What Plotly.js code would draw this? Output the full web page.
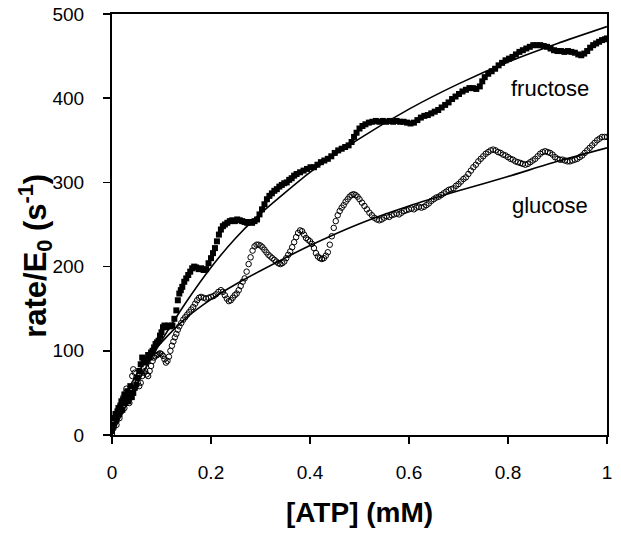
<!DOCTYPE html>
<html>
<head>
<meta charset="utf-8">
<script src="https://cdn.plot.ly/plotly-3.0.1.min.js"></script>
<style>html,body{margin:0;padding:0;background:#fff;}#chart{width:621px;height:533px;}</style>
</head>
<body>
<div id="chart"></div>
<script>
// ---- data ----
const fructoseX = [0.000,0.003,0.005,0.007,0.009,0.011,0.013,0.015,0.017,0.019,0.021,0.023,0.025,0.027,0.029,0.031,0.033,0.035,0.037,0.040,0.043,0.046,0.049,0.052,0.055,0.058,0.061,0.064,0.067,0.070,0.073,0.076,0.079,0.082,0.085,0.088,0.091,0.094,0.097,0.100,0.103,0.106,0.110,0.114,0.118,0.122,0.126,0.130,0.133,0.136,0.139,0.142,0.146,0.150,0.154,0.158,0.162,0.166,0.170,0.175,0.180,0.185,0.190,0.195,0.200,0.204,0.208,0.212,0.216,0.220,0.224,0.228,0.233,0.238,0.243,0.248,0.253,0.258,0.263,0.268,0.273,0.278,0.283,0.288,0.293,0.298,0.303,0.308,0.313,0.318,0.323,0.328,0.333,0.338,0.343,0.348,0.353,0.358,0.363,0.368,0.373,0.380,0.387,0.394,0.401,0.408,0.415,0.422,0.429,0.436,0.443,0.450,0.457,0.464,0.471,0.478,0.484,0.489,0.494,0.500,0.506,0.512,0.519,0.526,0.533,0.540,0.547,0.554,0.561,0.568,0.575,0.582,0.589,0.596,0.603,0.610,0.617,0.624,0.631,0.638,0.645,0.652,0.659,0.666,0.673,0.680,0.687,0.694,0.701,0.708,0.715,0.722,0.729,0.736,0.743,0.748,0.753,0.760,0.767,0.774,0.781,0.788,0.795,0.802,0.809,0.816,0.823,0.830,0.837,0.844,0.851,0.858,0.865,0.872,0.879,0.886,0.893,0.900,0.907,0.914,0.921,0.928,0.935,0.942,0.948,0.954,0.960,0.966,0.972,0.978,0.984,0.990,0.996,1.000];
const fructoseY = [5,12,20,25,18,28,32,25,35,40,30,42,48,38,45,52,40,50,58,45,50,56,60,68,76,84,92,90,86,88,95,92,98,100,104,108,110,112,118,122,128,130,128,130,129,130,138,148,160,168,172,176,182,186,190,194,198,200,199,197,198,196,197,204,210,216,222,230,238,244,248,250,252,254,255,254,256,255,254,253,252,253,252,254,256,262,268,274,280,284,287,290,292,295,297,299,300,303,305,308,310,312,314,316,318,318,321,324,326,328,331,335,338,340,342,344,348,354,359,364,367,369,371,372,373,372,373,372,373,372,373,372,372,371,370,371,374,377,379,380,382,384,386,389,392,395,399,402,405,408,410,412,412,411,414,420,425,429,432,435,439,442,445,447,449,452,455,457,459,461,463,463,463,462,461,459,457,456,456,455,456,455,454,452,451,453,456,460,463,465,467,469,470,471];

const glucoseX = [0.000,0.003,0.005,0.007,0.009,0.011,0.013,0.015,0.017,0.019,0.021,0.023,0.025,0.027,0.029,0.031,0.033,0.035,0.037,0.039,0.041,0.043,0.046,0.049,0.052,0.055,0.058,0.061,0.064,0.067,0.070,0.073,0.076,0.079,0.082,0.085,0.088,0.091,0.094,0.097,0.100,0.103,0.106,0.109,0.112,0.115,0.118,0.121,0.124,0.127,0.130,0.133,0.136,0.140,0.144,0.148,0.152,0.156,0.160,0.164,0.168,0.172,0.176,0.180,0.185,0.190,0.195,0.200,0.205,0.210,0.215,0.220,0.224,0.228,0.232,0.236,0.240,0.244,0.248,0.252,0.256,0.260,0.264,0.268,0.272,0.276,0.280,0.284,0.288,0.292,0.296,0.300,0.304,0.308,0.312,0.316,0.320,0.324,0.328,0.332,0.336,0.340,0.344,0.348,0.352,0.356,0.360,0.364,0.368,0.372,0.376,0.380,0.384,0.388,0.392,0.396,0.400,0.404,0.408,0.412,0.416,0.420,0.424,0.428,0.432,0.436,0.440,0.444,0.448,0.452,0.456,0.460,0.464,0.468,0.472,0.476,0.480,0.484,0.488,0.492,0.496,0.500,0.505,0.510,0.515,0.520,0.525,0.530,0.535,0.540,0.545,0.550,0.555,0.560,0.565,0.570,0.575,0.580,0.585,0.590,0.595,0.600,0.605,0.610,0.615,0.620,0.625,0.630,0.635,0.640,0.645,0.650,0.655,0.660,0.665,0.670,0.675,0.680,0.685,0.690,0.695,0.700,0.705,0.710,0.715,0.720,0.725,0.730,0.735,0.740,0.745,0.750,0.755,0.760,0.765,0.770,0.775,0.780,0.785,0.790,0.795,0.800,0.805,0.810,0.815,0.820,0.825,0.830,0.835,0.840,0.845,0.850,0.855,0.860,0.865,0.870,0.875,0.880,0.885,0.890,0.895,0.900,0.905,0.910,0.915,0.920,0.925,0.930,0.935,0.940,0.945,0.950,0.955,0.960,0.965,0.970,0.975,0.980,0.985,0.990,0.995,1.000];
const glucoseY = [0,8,15,22,12,25,30,20,35,28,40,45,32,50,55,42,48,38,44,55,70,78,74,68,62,58,62,70,74,76,72,70,76,82,88,92,94,95,96,97,96,94,90,86,88,93,100,106,111,116,120,125,129,133,137,140,143,146,149,152,156,160,163,164,163,162,163,164,165,167,170,172,170,166,162,159,160,163,166,168,172,177,182,186,194,203,211,219,224,226,226,225,223,220,217,214,212,210,208,206,204,203,204,206,210,214,218,223,229,235,240,243,242,238,234,232,230,227,222,216,212,210,209,210,213,217,226,236,246,254,261,266,270,273,277,280,283,285,286,285,283,280,276,272,268,264,261,258,256,255,256,258,260,259,261,262,263,262,264,266,267,268,269,268,270,271,270,271,273,275,278,280,282,283,285,287,289,291,292,293,296,298,301,304,306,310,314,318,321,325,328,331,334,336,338,339,338,336,335,333,332,330,328,327,325,324,323,322,321,322,324,326,328,331,334,336,337,336,335,333,330,328,327,327,326,325,325,326,327,328,330,332,335,338,341,344,347,350,352,354,354,354];

const fitX = [0,0.005,0.01,0.02,0.03,0.05,0.075,0.1,0.15,0.2,0.25,0.3,0.4,0.5,0.6,0.7,0.8,0.9,1.0];
const fructoseFitY = [0,6,13,25,37,60,87,112,158,199,234,263,312,352,387,417,443,465,485];
const glucoseFitY = [0,12,22,38,51,72,93,110,139,161,179,195,225,251,272,290,307,325,341];

const xTickVals = [0,0.2,0.4,0.6,0.8,1];
const xTickText = ['0','0.2','0.4','0.6','0.8','1'];
const yTickVals = [0,100,200,300,400,500];
const yTickText = ['0','100','200','300','400','500'];

const seriesLabels = ['fructose','glucose'];
const xTitle = '[ATP] (mM)';
const yTitle = 'rate/E<sub>0</sub> (s<sup>-1</sup>)';

// ---- chart ----
const FONT = 'Arial, "Liberation Sans", Helvetica, sans-serif';
const traces = [
  {x: fructoseX, y: fructoseY, type:'scatter', mode:'markers', name:'fructose',
   marker:{symbol:'square', size:6, color:'#000', line:{width:0}}},
  {x: glucoseX, y: glucoseY, type:'scatter', mode:'markers', name:'glucose',
   marker:{symbol:'circle-open', size:5.5, color:'#000', line:{width:1, color:'#000'}}},
  {x: fitX, y: fructoseFitY, type:'scatter', mode:'lines', name:'fructose fit',
   line:{color:'#000', width:1.6, shape:'spline', smoothing:0.6}},
  {x: fitX, y: glucoseFitY, type:'scatter', mode:'lines', name:'glucose fit',
   line:{color:'#000', width:1.6, shape:'spline', smoothing:0.6}}
];

const layout = {
  width:621, height:533,
  margin:{l:112, r:14, t:14, b:98, pad:0},
  paper_bgcolor:'#fff', plot_bgcolor:'#fff',
  showlegend:false,
  font:{family:FONT, color:'#000'},
  xaxis:{
    range:[0,1], tickmode:'array', tickvals:xTickVals, ticktext:xTickText,
    showline:true, mirror:true, linecolor:'#000', linewidth:2,
    ticks:'outside', ticklen:7, tickwidth:1.5, tickcolor:'#000',
    showgrid:false, zeroline:false,
    tickfont:{family:FONT, size:19, color:'#000'},
    ticklabelstandoff:12,
    title:{text:xTitle, font:{family:FONT, size:28, color:'#000', weight:'bold'}, standoff:21},
    automargin:false
  },
  yaxis:{
    range:[0,500], tickmode:'array', tickvals:yTickVals, ticktext:yTickText,
    showline:true, mirror:true, linecolor:'#000', linewidth:2,
    ticks:'outside', ticklen:7, tickwidth:1.5, tickcolor:'#000',
    showgrid:false, zeroline:false,
    tickfont:{family:FONT, size:19, color:'#000'},
    ticklabelstandoff:15,
    automargin:false
  },
  annotations:[
    {text:yTitle, xref:'paper', yref:'paper', x:-0.156, y:0.425, xanchor:'center', yanchor:'middle',
     textangle:-90, showarrow:false, font:{family:FONT, size:31, color:'#000', weight:'bold'}},
    {text:seriesLabels[0], xref:'x', yref:'y', x:0.885, y:412, showarrow:false,
     font:{family:FONT, size:22, color:'#000'}},
    {text:seriesLabels[1], xref:'x', yref:'y', x:0.885, y:272, showarrow:false,
     font:{family:FONT, size:22, color:'#000'}}
  ]
};

Plotly.newPlot('chart', traces, layout, {staticPlot:true, displayModeBar:false});
</script>
</body>
</html>
